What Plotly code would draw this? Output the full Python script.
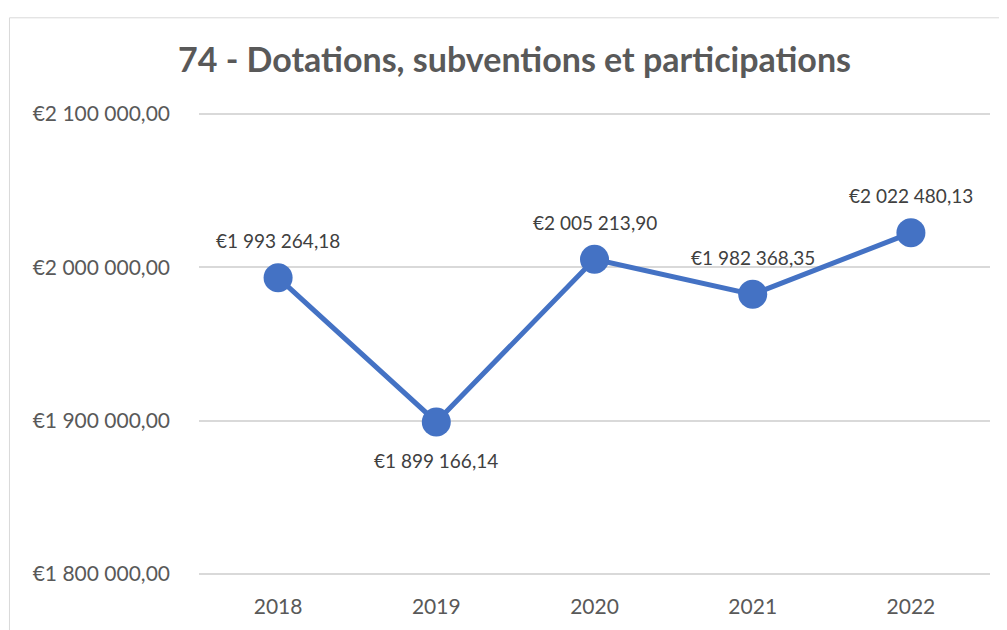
import plotly.graph_objects as go

years = ["2018", "2019", "2020", "2021", "2022"]
values = [1993264.18, 1899166.14, 2005213.90, 1982368.35, 2022480.13]
label_above = [True, False, True, True, True]
y_ticks = [1800000, 1900000, 2000000, 2100000]
title_text = "74 - Dotations, subventions et participations"

def fmt(v):
    s = f"{v:,.2f}"
    ip, dp = s.split(".")
    return "€" + ip.replace(",", " ") + "," + dp

BLUE = "#4472C4"
FONT = "Lato"

fig = go.Figure()
fig.add_trace(go.Scatter(
    x=years, y=values, mode="lines+markers",
    line=dict(color=BLUE, width=5),
    marker=dict(color=BLUE, size=29),
    hoverinfo="skip",
))

for i, (v, up) in enumerate(zip(values, label_above)):
    fig.add_annotation(x=i, y=v, xref="x", yref="y", text=fmt(v), showarrow=False,
                       yshift=37 if up else -39,
                       font=dict(family=FONT, size=19, color="#404040"))

fig.add_shape(type="rect", xref="paper", yref="paper",
              x0=-0.2396, x1=1.1, y0=-0.3, y1=1.2,
              line=dict(color="#D9D9D9", width=1), layer="below")

fig.update_layout(
    width=999, height=622,
    margin=dict(l=191, r=17, t=103, b=47),
    paper_bgcolor="white", plot_bgcolor="white",
    showlegend=False,
    separators=", ",
    title=dict(text=title_text, x=0.507, xanchor="center", y=0.916, yanchor="middle",
               font=dict(family=FONT, size=34, color="#595959", weight="bold")),
    xaxis=dict(type="category", range=[-0.5, 4.5], showgrid=False, showline=False,
               zeroline=False, ticks="", ticklabelstandoff=15,
               tickfont=dict(family=FONT, size=21, color="#595959")),
    yaxis=dict(range=[1798052, 2101948], tickvals=y_ticks,
               ticktext=[fmt(t) for t in y_ticks],
               showgrid=True, gridcolor="#D9D9D9", gridwidth=1.5,
               zeroline=False, showline=False, ticks="", ticklabelstandoff=28,
               tickfont=dict(family=FONT, size=21, color="#595959")),
)

fig.write_html("out.html")
